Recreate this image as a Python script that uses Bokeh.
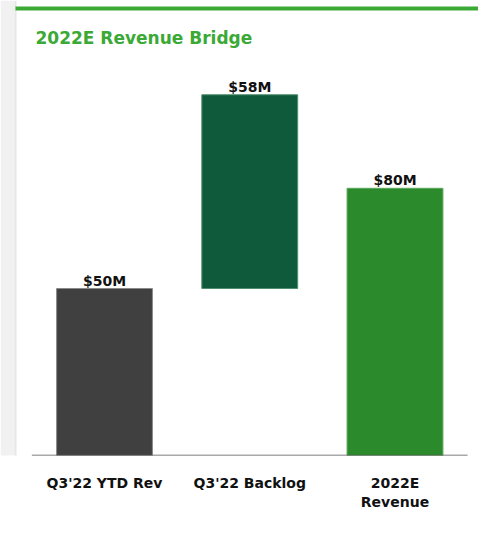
from bokeh.plotting import figure
from bokeh.models import Range1d, FixedTicker, Label, BoxAnnotation, ColumnDataSource
from bokeh.core.properties import value
from bokeh.embed import file_html
from bokeh.resources import INLINE

# ---- data ----
categories = ["Q3'22 YTD Rev", "Q3'22 Backlog", "2022E\nRevenue"]
values = [50, 58, 80]
bases = [0, 50, 0]
value_labels = ["$50M", "$58M", "$80M"]
bar_colors = ["#404040", "#0E5A3A", "#2B8A2B"]
edge_colors = ["#8a8a8a", "#4f8f6f", "#5aa85a"]
title_text = "2022E Revenue Bridge"

W, H = 478, 541
PX_PER_UNIT_X = 145.25
PX_PER_M = 3.34
FRAME_H = 455
x_start = -104 / PX_PER_UNIT_X
x_end = x_start + W / PX_PER_UNIT_X
y_end = FRAME_H / PX_PER_M

xs = list(range(len(categories)))
tops = [b + v for b, v in zip(bases, values)]
src = ColumnDataSource(dict(x=xs, bottom=bases, top=tops, color=bar_colors,
                            edge=edge_colors, label=value_labels))

p = figure(width=W, height=H, output_backend="svg", toolbar_location=None,
           x_range=Range1d(x_start, x_end), y_range=Range1d(0, y_end),
           y_axis_location=None, min_border_left=0, min_border_right=0,
           min_border_top=0, min_border_bottom=H - FRAME_H)
p.outline_line_color = None
p.grid.visible = False
p.background_fill_color = "white"
p.border_fill_color = "white"


def canvas_box(l, r, t, b, color):
    return BoxAnnotation(left=l, right=r, top=t, bottom=b,
                         left_units="canvas", right_units="canvas",
                         top_units="canvas", bottom_units="canvas",
                         fill_color=color, fill_alpha=1, line_color=None)


# page background strip at left, card shadow, green top rule
p.add_layout(canvas_box(0, 14, 0, H, "#f1f1f1"))
p.add_layout(canvas_box(14, 16, 0, H, "#e6e6e6"))
p.add_layout(canvas_box(15, W, 6, 10, "#3BA935"))

# bars
p.vbar(x="x", width=0.66, bottom="bottom", top="top", source=src,
       fill_color="color", line_color="edge", line_width=1)

# baseline
p.segment(x0=[-0.5], y0=[0], x1=[2.5], y1=[0], line_color="#555555", line_width=1.5)

# value labels
p.text(x="x", y="top", text="label", source=src, text_align="center",
       text_baseline="bottom", text_font=value("DejaVu Sans"),
       text_font_style="bold", text_font_size="14px", text_color="#111111")

# title
p.add_layout(Label(x=x_start + 35 / PX_PER_UNIT_X, y=(FRAME_H - 37) / PX_PER_M,
                   text=title_text, text_baseline="middle", text_align="left",
                   text_font="DejaVu Sans", text_font_style="bold",
                   text_font_size="17px", text_color="#3BA935"))

ax = p.xaxis[0]
ax.ticker = FixedTicker(ticks=xs)
ax.major_label_overrides = {i: c for i, c in zip(xs, categories)}
ax.axis_line_color = None
ax.major_tick_line_color = None
ax.minor_tick_line_color = None
ax.major_label_standoff = 13
ax.major_label_text_font = "DejaVu Sans"
ax.major_label_text_font_style = "bold"
ax.major_label_text_font_size = "14px"
ax.major_label_text_color = "#111111"

open("out.html", "w").write(file_html(p, INLINE))
